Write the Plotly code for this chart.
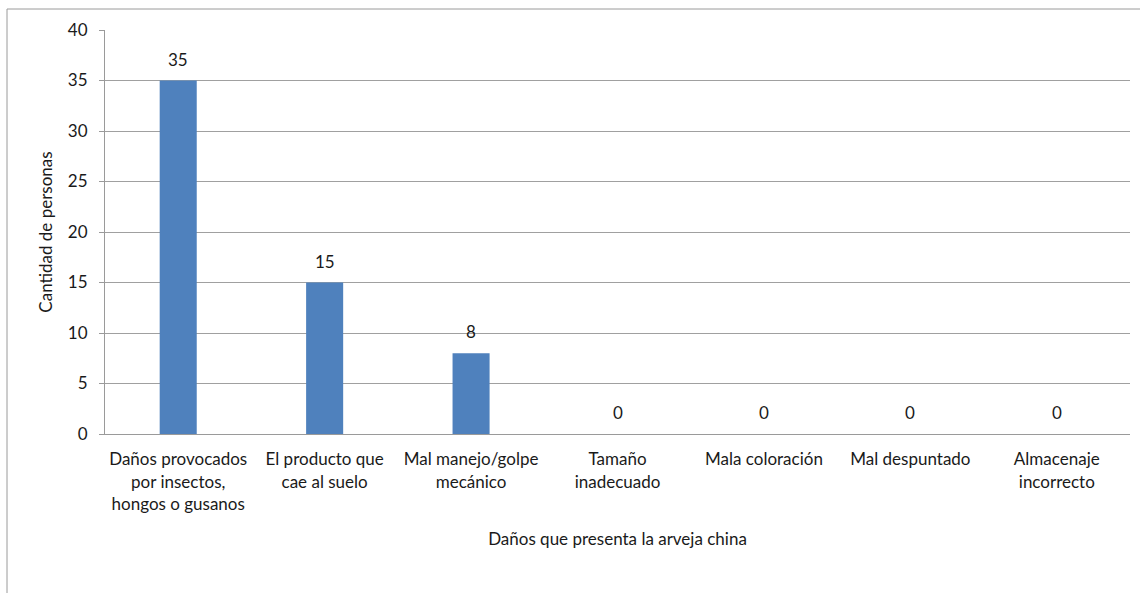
import plotly.graph_objects as go

categories = [
    "Daños provocados<br>por insectos,<br>hongos o gusanos",
    "El producto que<br>cae al suelo",
    "Mal manejo/golpe<br>mecánico",
    "Tamaño<br>inadecuado",
    "Mala coloración",
    "Mal despuntado",
    "Almacenaje<br>incorrecto",
]
values = [35, 15, 8, 0, 0, 0, 0]
y_ticks = [0, 5, 10, 15, 20, 25, 30, 35, 40]

FONT = "Lato"
FS = 17
TXT = "#1a1a1a"
fig = go.Figure()
fig.add_trace(go.Bar(
    x=categories, y=values,
    marker=dict(color="#4F81BD", line=dict(width=0)),
    hoverinfo="x+y",
))
for c, v in zip(categories, values):
    fig.add_annotation(x=c, y=v, text=str(v), showarrow=False,
                       yanchor="bottom", yshift=9,
                       font=dict(family=FONT, size=FS, color=TXT))

W, H = 1140, 593
L, R, T, B = 105, 10, 30, 159
pw, ph = W - L - R, H - T - B

def px_x(p):
    return (p - L) / pw

def px_y(p):
    return (H - B - p) / ph

fig.update_layout(
    width=W, height=H,
    margin=dict(l=L, r=R, t=T, b=B),
    paper_bgcolor="white", plot_bgcolor="white",
    bargap=0.747,
    showlegend=False,
    font=dict(family=FONT, size=FS, color=TXT),
    xaxis=dict(
        showgrid=False, showline=True, linecolor="#9a9a9a", linewidth=1,
        ticks="", ticklabelstandoff=10,
        tickfont=dict(family=FONT, size=FS, color=TXT),
        title=dict(text="Daños que presenta la arveja china",
                   font=dict(family=FONT, size=FS, color=TXT), standoff=20),
    ),
    yaxis=dict(
        range=[0, 40], tickvals=y_ticks, showgrid=True, gridcolor="#a0a0a0", gridwidth=1,
        showline=True, linecolor="#9a9a9a", linewidth=1,
        ticks="outside", ticklen=5, tickcolor="#9a9a9a", ticklabelstandoff=8,
        tickfont=dict(family=FONT, size=FS, color=TXT),
        zeroline=False,
        title=dict(text="Cantidad de personas",
                   font=dict(family=FONT, size=FS, color=TXT), standoff=10),
    ),
    shapes=[dict(type="rect", xref="paper", yref="paper",
                 x0=px_x(7), x1=px_x(1150), y0=px_y(610), y1=px_y(9),
                 line=dict(color="#9a9a9a", width=1), layer="below")],
)

fig.write_html("out.html")
